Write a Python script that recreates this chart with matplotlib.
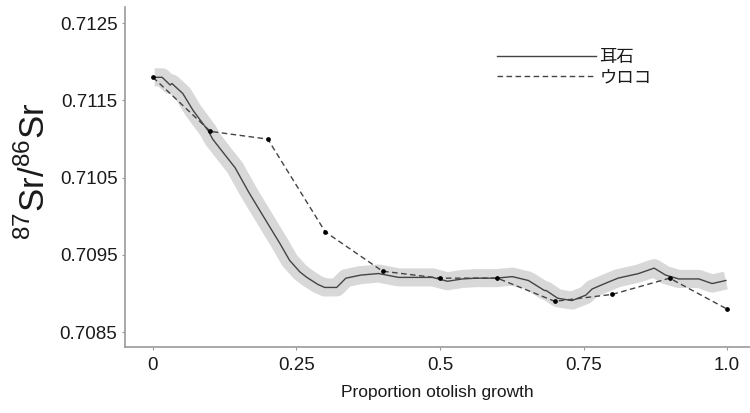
import matplotlib
matplotlib.use("Agg")
import matplotlib.pyplot as plt
import numpy as np

plt.rcParams["font.family"] = ["Liberation Sans", "Noto Sans CJK JP", "DejaVu Sans"]
plt.rcParams["mathtext.fontset"] = "custom"
plt.rcParams["mathtext.rm"] = "Liberation Sans"

# ── Data ─────────────────────────────────────────────────────────────────────
# otolith transect: pixel-read x (proportion) and 87Sr/86Sr
otolith_x = [0.003, 0.016, 0.030, 0.033, 0.052, 0.070, 0.096, 0.104, 0.125,
             0.143, 0.167, 0.198, 0.221, 0.238, 0.256, 0.268, 0.287, 0.299,
             0.320, 0.336, 0.362, 0.393, 0.428, 0.487, 0.513, 0.539, 0.563,
             0.586, 0.598, 0.598, 0.626, 0.654, 0.682, 0.685, 0.705, 0.730,
             0.754, 0.765, 0.787, 0.810, 0.846, 0.873, 0.893, 0.916, 0.951,
             0.974, 0.998]
otolith_y = [0.71180, 0.71180, 0.71170, 0.71172, 0.71159, 0.71137, 0.71111,
             0.71100, 0.71080, 0.71063, 0.71031, 0.70993, 0.70965, 0.70943,
             0.70928, 0.70921, 0.70912, 0.70908, 0.70908, 0.70920, 0.70924,
             0.70926, 0.70921, 0.70921, 0.70916, 0.70919, 0.70920, 0.70920,
             0.70920, 0.70920, 0.70922, 0.70917, 0.70904, 0.70904, 0.70894,
             0.70891, 0.70898, 0.70906, 0.70913, 0.70920, 0.70926, 0.70933,
             0.70924, 0.70919, 0.70919, 0.70913, 0.70917]

# scale samples
scale_x = [0.0, 0.1, 0.2, 0.3, 0.4, 0.5, 0.6, 0.7, 0.8, 0.9, 1.0]
scale_y = [0.71180, 0.71110, 0.71100, 0.70980, 0.70929, 0.70920, 0.70920,
           0.70890, 0.70899, 0.70920, 0.70880]

x_ticks = [0, 0.25, 0.5, 0.75, 1.0]
x_tick_labels = ["0", "0.25", "0.5", "0.75", "1.0"]
y_ticks = [0.7085, 0.7095, 0.7105, 0.7115, 0.7125]
y_tick_labels = ["0.7085", "0.7095", "0.7105", "0.7115", "0.7125"]

# ── Figure ───────────────────────────────────────────────────────────────────
fig = plt.figure(figsize=(7.5, 4.13), dpi=100)
ax = fig.add_axes([0.1667, 0.160, 0.8333, 0.823])

# uncertainty band drawn as a wide light-grey ribbon under the line
ax.plot(otolith_x, otolith_y, color="#d8d8d8", linewidth=13,
        solid_capstyle="butt", solid_joinstyle="round", zorder=1)
ax.plot(otolith_x, otolith_y, color="#444444", linewidth=1.0, zorder=3,
        label="耳石")
ax.plot(scale_x, scale_y, color="#444444", linewidth=1.0, linestyle=(0, (4, 2.5)),
        marker="o", markersize=2.4, markerfacecolor="black",
        markeredgecolor="black", zorder=4, label="ウロコ")

ax.set_xlim(-0.0487, 1.04)
ax.set_ylim(0.70831, 0.71271)
ax.set_xticks(x_ticks)
ax.set_xticklabels(x_tick_labels)
ax.set_yticks(y_ticks)
ax.set_yticklabels(y_tick_labels)

for side in ("top", "right"):
    ax.spines[side].set_visible(False)
for side in ("left", "bottom"):
    ax.spines[side].set_color("#9a9a9a")
    ax.spines[side].set_linewidth(1.2)
ax.tick_params(colors="#9a9a9a", length=2.5, width=0.8, labelsize=13.5,
               labelcolor="#1a1a1a")
ax.tick_params(axis="x", pad=5)
ax.tick_params(axis="y", pad=3)

ax.set_xlabel("Proportion otolish growth", fontsize=12.5, color="#1a1a1a",
              labelpad=8)
fig.text(0.046, 0.585, r"$^{87}\mathregular{Sr/}^{86}\mathregular{Sr}$",
         rotation=90, ha="center", va="center", fontsize=25, color="#1a1a1a")

leg = ax.legend(loc="upper left", bbox_to_anchor=(0.595, 0.88), frameon=False,
                handlelength=5.7, handletextpad=0.2, borderpad=0,
                borderaxespad=0, labelspacing=0.15,
                prop={"family": ["Noto Sans CJK JP"], "size": 12.5})
for t in leg.get_texts():
    t.set_color("#1a1a1a")
for h in leg.get_lines():
    h.set_marker("")

fig.savefig("out.png", dpi=100)
